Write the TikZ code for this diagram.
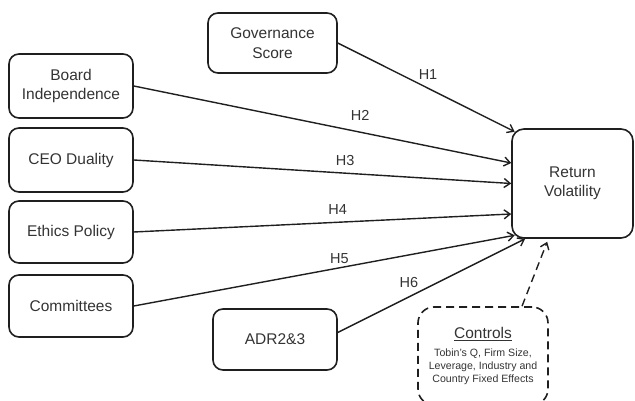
\documentclass[tikz,border=0pt]{standalone}
\usepackage{fontspec}
\setmainfont{Liberation Sans}
\usetikzlibrary{arrows.meta}
\tikzset{
  box/.style={draw=black!88,line width=1.6pt,rounded corners=10pt,align=center,
    text=black!80,font=\fontsize{15.5}{19.5}\selectfont},
  hlabel/.style={text=black!80,font=\fontsize{14.5}{17}\selectfont},
  link/.style={line width=1.4pt,draw=black!88}
}
\newcommand\smalltxt{\fontsize{10.6}{12.8}\selectfont}
\begin{document}
\begin{tikzpicture}[x=1pt,y=1pt,>={Straight Barb[length=6pt,width=9pt]}]
    \useasboundingbox (0,0) rectangle (635,401);
    \clip (0,0) rectangle (635,401);

    \node[box,minimum width=129pt,minimum height=60pt] (gov) at (272.5,358) {Governance\\Score};
    \node[box,minimum width=124pt,minimum height=64pt] (board) at (71,315) {Board\\Independence};
    \node[box,minimum width=124pt,minimum height=64pt] (ceo) [below of=board,node distance=74pt] {CEO Duality};
    \node[box,minimum width=124pt,minimum height=62pt] (ethics) [below of=ceo,node distance=72pt] {Ethics Policy};
    \node[box,minimum width=124pt,minimum height=62pt] (comm) [below of=ethics,node distance=74pt] {Committees};
    \node[box,minimum width=124pt,minimum height=61pt] (adr) at (275,61.5) {ADR2\&3};
    \node[box,minimum width=121pt,minimum height=109pt,rounded corners=12pt] (ret) at (572.5,217.5) {Return\\Volatility};

    % controls box runs past the bottom edge
    \node[box,dash pattern=on 8pt off 5pt,rounded corners=16pt,minimum width=130pt,minimum height=98pt] (ctrl) at (483,45)
        {\underline{Controls}\\[-2pt]
         \smalltxt Tobin's Q, Firm Size,\\[-6.5pt]\smalltxt Leverage, Industry and\\[-6.5pt]\smalltxt Country Fixed Effects};

    \draw[->,link] (gov.east) -- node[hlabel,pos=.51,above=5pt] {H1} ([xshift=3.5pt,yshift=-3.5pt]ret.north west);
    \draw[->,link] (board.east) -- node[hlabel,pos=.6,above=8pt] {H2} ([yshift=20.5pt]ret.west);
    \draw[->,link] (ceo.east) -- node[hlabel,pos=.56,above=3.5pt] {H3} (ret.west);
    \draw[->,link] (ethics.east) -- node[hlabel,pos=.54,above=3.5pt] {H4} ([yshift=-30.5pt]ret.west);
    \draw[->,link] (comm.east) -- node[hlabel,pos=.54,above] {H5} ([xshift=3.5pt,yshift=3.5pt]ret.south west);
    \draw[->,link] ([yshift=7pt]adr.east) -- node[hlabel,pos=.38,above=5.5pt] {H6} ([xshift=14pt]ret.south west);

    \draw[->,link,dash pattern=on 8pt off 5pt] ([xshift=39pt]ctrl.north) -- ([xshift=36pt,yshift=-3pt]ret.south west);
\end{tikzpicture}
\end{document}
